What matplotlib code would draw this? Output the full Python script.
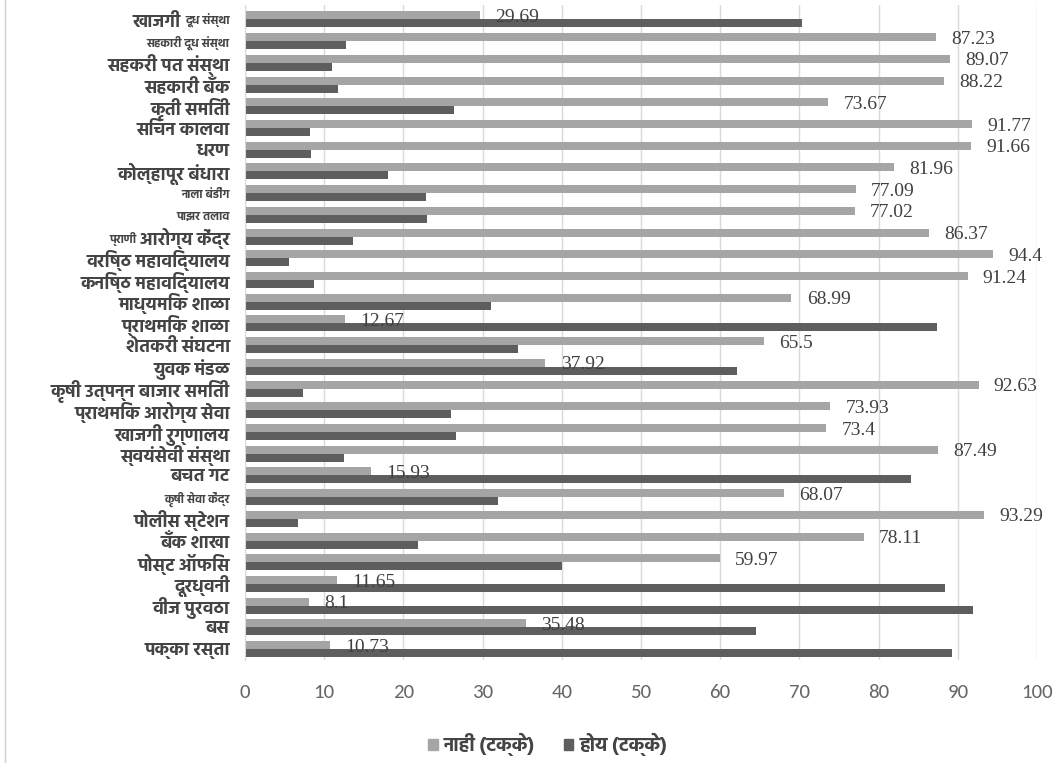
import matplotlib
matplotlib.use("Agg")
import matplotlib.pyplot as plt
from matplotlib import font_manager as fm
from matplotlib.lines import Line2D
from matplotlib.patches import Patch

# categories, top to bottom
labels = ["खाजगी दूध संस्था", "सहकारी दूध संस्था", "सहकरी पत संस्था", "सहकारी बँक",
          "कृती समिती", "सिचन कालवा", "धरण", "कोल्हापूर बंधारा", "नाला बंडींग",
          "पाझर तलाव", "प्राणी आरोग्य केंद्र", "वरिष्ठ महाविद्यालय", "कनिष्ठ महाविद्यालय",
          "माध्यमिक शाळा", "प्राथमिक शाळा", "शेतकरी संघटना", "युवक मंडळ",
          "कृषी उत्पन्न बाजार समिती", "प्राथमिक आरोग्य सेवा", "खाजगी रुग्णालय",
          "स्वयंसेवी संस्था", "बचत गट", "कृषी सेवा केंद्र", "पोलीस स्टेशन", "बँक शाखा",
          "पोस्ट ऑफिस", "दूरध्वनी", "वीज पुरवठा", "बस", "पक्का रस्ता"]
# labels that were pasted in at a smaller size
small_labels = ["सहकारी दूध संस्था", "नाला बंडींग", "पाझर तलाव", "कृषी सेवा केंद्र"]
# labels mixing two sizes: (left part, right part, which part is small)
mixed = {"खाजगी दूध संस्था": ("खाजगी", "दूध संस्था", "right"),
         "प्राणी आरोग्य केंद्र": ("प्राणी", "आरोग्य केंद्र", "left")}

nahi = [29.69, 87.23, 89.07, 88.22, 73.67, 91.77, 91.66, 81.96, 77.09, 77.02,
        86.37, 94.4, 91.24, 68.99, 12.67, 65.5, 37.92, 92.63, 73.93, 73.4,
        87.49, 15.93, 68.07, 93.29, 78.11, 59.97, 11.65, 8.1, 35.48, 10.73]
hoy = [70.31, 12.77, 10.93, 11.78, 26.33, 8.23, 8.34, 18.04, 22.91, 22.98,
       13.63, 5.6, 8.76, 31.01, 87.33, 34.5, 62.08, 7.37, 26.07, 26.6,
       12.51, 84.07, 31.93, 6.71, 21.89, 40.03, 88.35, 91.9, 64.52, 89.27]
nahi_label = "नाही (टक्के)"
hoy_label = "होय (टक्के)"
xticks = [0, 10, 20, 30, 40, 50, 60, 70, 80, 90, 100]

# pick a Devanagari font, preferably one with a bold face
deva = "DejaVu Sans"
prefs = ["Noto Sans Devanagari", "Hind", "Mukta", "Ek Mukta", "Lohit Devanagari",
         "FreeSans", "Annapurna SIL"]
for name in prefs:
    faces = [f for f in fm.fontManager.ttflist if f.name == name]
    if faces and any(int(f.weight) >= 600 if str(f.weight).isdigit() else f.weight == "bold"
                     for f in faces):
        deva = name
        break
else:
    for name in prefs:
        if any(f.name == name for f in fm.fontManager.ttflist):
            deva = name
            break
deva_fam = [deva, "DejaVu Sans"]
num_fam = ["Liberation Serif", "DejaVu Serif"]
tick_fam = ["Carlito", "Liberation Sans", "DejaVu Sans"]

c_light = "#a5a5a5"
c_dark = "#5e5e5e"
txt = "#404040"
lab_col = "#444444"
big, small = 13, 8.5

fig = plt.figure(figsize=(10.63, 7.63), dpi=100)
ax = fig.add_axes([0.2305, 0.135, 0.745, 0.858])

y = list(range(len(labels)))
h = 0.37
ax.barh([v - h / 2 for v in y], nahi, height=h, color=c_light, label=nahi_label, zorder=2)
ax.barh([v + h / 2 for v in y], hoy, height=h, color=c_dark, label=hoy_label, zorder=2)

for v, val in zip(y, nahi):
    ax.annotate(f"{val:g}", xy=(val, v - h / 2), xytext=(11, -1.5), textcoords="offset points",
                ha="left", va="center", fontsize=14, family=num_fam, color=txt)

ax.set_xlim(0, 100)
ax.set_ylim(len(labels) - 0.5, -0.65)
ax.set_xticks(xticks)
ax.set_xticklabels([str(t) for t in xticks], family=tick_fam, fontsize=15, color="#666666")
ax.set_yticks(y)
ax.set_yticklabels([mixed[l][1] if l in mixed else l for l in labels])
ax.tick_params(axis="both", length=0)
ax.tick_params(axis="x", pad=17)
ax.tick_params(axis="y", pad=11)

for tl, lab in zip(ax.get_yticklabels(), labels):
    tl.set_family(deva_fam)
    tl.set_fontweight("bold")
    tl.set_color(lab_col)
    size = small if lab in small_labels else big
    if lab in mixed:
        left, right, which = mixed[lab]
        size = small if which == "right" else big
        ax.annotate(left + " ", xy=(0, 0.5), xycoords=tl, ha="right", va="center",
                    fontsize=small if which == "left" else big, family=deva_fam,
                    fontweight="bold", color=lab_col, annotation_clip=False)
    tl.set_fontsize(size)

ax.grid(axis="x", color="#d9d9d9", lw=1, zorder=0)
for s in ["top", "right", "bottom"]:
    ax.spines[s].set_visible(False)
ax.spines["left"].set_color("#d9d9d9")

# light frame line at the left edge of the picture
fig.add_artist(Line2D([0.005, 0.005], [0, 1], color="#d0d0d0", lw=1))

handles = [Patch(color=c_light), Patch(color=c_dark)]
ax.legend(handles, [nahi_label, hoy_label], loc="center", bbox_to_anchor=(0.515, 0.024),
          bbox_transform=fig.transFigure, ncol=2, frameon=False, handlelength=0.5,
          handleheight=0.5, handletextpad=0.3, columnspacing=1.5,
          prop={"family": deva_fam, "size": 14, "weight": "bold"}, labelcolor=lab_col)

fig.savefig("out.png", dpi=100)
